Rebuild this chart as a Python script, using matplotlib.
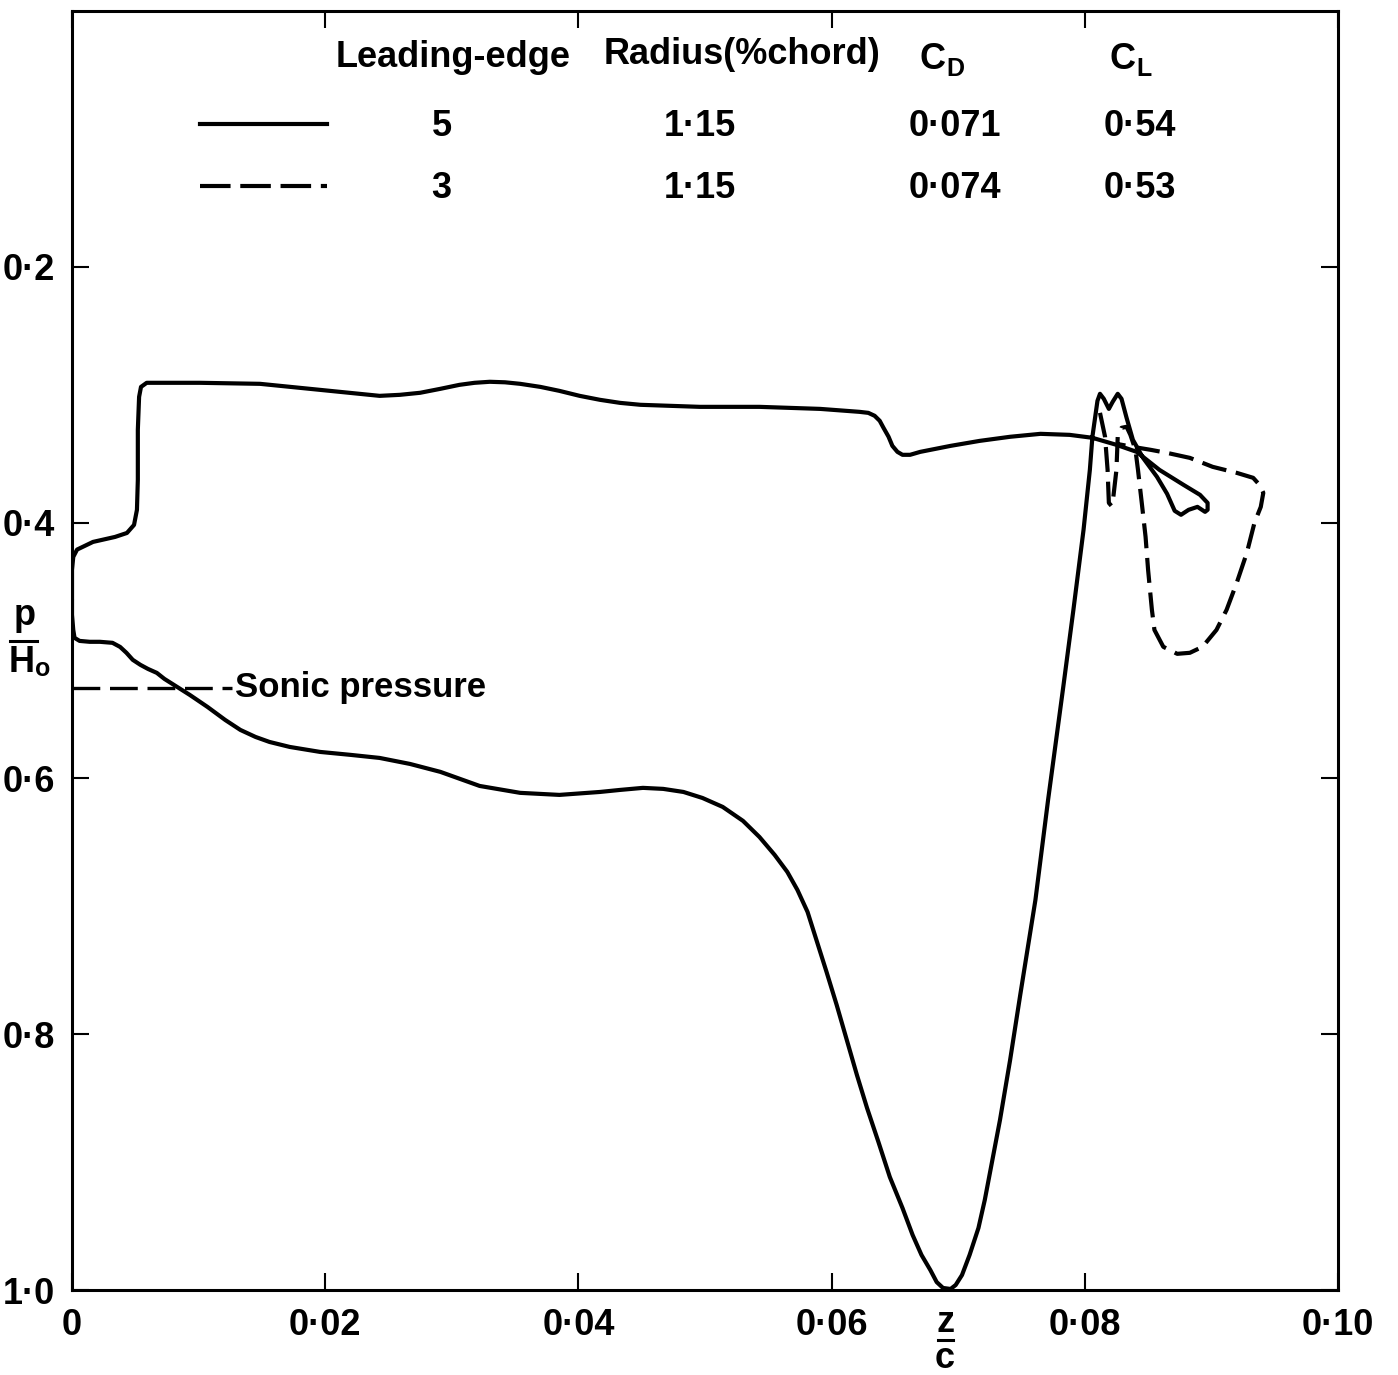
import matplotlib
matplotlib.use('Agg')
import matplotlib.pyplot as plt
from matplotlib.lines import Line2D

plt.rcParams['font.family'] = ['Liberation Sans', 'DejaVu Sans']
plt.rcParams['font.weight'] = 'bold'
plt.rcParams['lines.scale_dashes'] = False

# 5% leading edge: suction side, leading edge -> trailing edge
upper_x = [0.0, 0.0, 0.0001, 0.0004, 0.00166, 0.0034, 0.00434, 0.0049, 0.00513,
           0.0052, 0.0052, 0.0053, 0.00545, 0.0059, 0.0101, 0.01485, 0.0196,
           0.0220, 0.0243, 0.0259, 0.0275, 0.0291, 0.0306, 0.0318, 0.0330,
           0.0342, 0.0354, 0.0370, 0.0385, 0.0401, 0.0417, 0.0433, 0.0449,
           0.0472, 0.0496, 0.0543, 0.0591, 0.0622, 0.0629, 0.0634, 0.0638,
           0.0641, 0.0645, 0.0648, 0.0652, 0.0656, 0.0662, 0.0670, 0.0694,
           0.0717, 0.0741, 0.0765, 0.0788, 0.0806, 0.0825, 0.0841, 0.0859,
           0.0878, 0.0891, 0.0897, 0.0897]
upper_y = [0.4604, 0.4370, 0.4268, 0.4211, 0.4151, 0.4112, 0.4081, 0.4018, 0.3900,
           0.3666, 0.3275, 0.3017, 0.2939, 0.2907, 0.2907, 0.2915, 0.2962,
           0.2985, 0.3009, 0.3001, 0.2985, 0.2954, 0.2923, 0.2907, 0.2899,
           0.2903, 0.2915, 0.2939, 0.2970, 0.3009, 0.3040, 0.3064, 0.3079,
           0.3087, 0.3095, 0.3095, 0.3111, 0.3134, 0.3142, 0.3165, 0.3204,
           0.3259, 0.3329, 0.3400, 0.3447, 0.3470, 0.3470, 0.3447, 0.3400,
           0.3361, 0.3329, 0.3306, 0.3314, 0.3337, 0.3392, 0.3447, 0.3588,
           0.3705, 0.3783, 0.3846, 0.3900]

# 5% leading edge: pressure side, trailing edge -> leading edge
lower_x = [0.0895, 0.0889, 0.0882, 0.0876, 0.0871, 0.0865, 0.0857, 0.0846, 0.0838,
           0.0833, 0.0829, 0.0826, 0.0822, 0.0819, 0.0815, 0.0812, 0.0810,
           0.0806, 0.0804, 0.0799, 0.0791, 0.0783, 0.0771, 0.0761, 0.0749,
           0.0741, 0.0733, 0.0727, 0.0721, 0.0716, 0.0709, 0.0703, 0.0698,
           0.0694, 0.0688, 0.0683, 0.0678, 0.0671, 0.0664, 0.0656, 0.0646,
           0.0637, 0.0628, 0.0620, 0.0612, 0.0604, 0.0596, 0.0588, 0.0581,
           0.0573, 0.0565, 0.0555, 0.0543, 0.0530, 0.0514, 0.0498, 0.0483,
           0.0467, 0.0451, 0.0433, 0.0417, 0.0385, 0.0354, 0.0322, 0.0291,
           0.0267, 0.0243, 0.0220, 0.0196, 0.0172, 0.0156, 0.0145, 0.0133,
           0.0121, 0.0107, 0.0093, 0.0083, 0.0073, 0.0067, 0.0060, 0.0054,
           0.0048, 0.0043, 0.0038, 0.0032, 0.0022, 0.0014, 0.0006, 0.0002,
           0.0001, 0.0, 0.0]
lower_y = [0.3916, 0.3877, 0.3900, 0.3939, 0.3908, 0.3775, 0.3642, 0.3494, 0.3353,
           0.3181, 0.3032, 0.2993, 0.3056, 0.3111, 0.3032, 0.2993, 0.3048,
           0.3329, 0.3587, 0.4057, 0.4682, 0.5284, 0.6168, 0.6950, 0.7693,
           0.8202, 0.8671, 0.8984, 0.9296, 0.9515, 0.9726, 0.9883, 0.9961,
           0.9992, 0.9984, 0.9938, 0.9844, 0.9726, 0.9570, 0.9359, 0.9117,
           0.8843, 0.8577, 0.8319, 0.8045, 0.7771, 0.7513, 0.7263, 0.7044,
           0.6872, 0.6731, 0.6598, 0.6458, 0.6332, 0.6223, 0.6153, 0.6106,
           0.6082, 0.6074, 0.6090, 0.6106, 0.6129, 0.6113, 0.6059, 0.5949,
           0.5887, 0.5840, 0.5816, 0.5793, 0.5754, 0.5715, 0.5676, 0.5621,
           0.5543, 0.5441, 0.5347, 0.5284, 0.5222, 0.5175, 0.5144, 0.5112,
           0.5073, 0.5018, 0.4972, 0.4940, 0.4932, 0.4932, 0.4925, 0.4901,
           0.4839, 0.4721, 0.4604]

# 3% leading edge, where it differs from the 5% curve
dash_x = [0.0812, 0.0816, 0.0818, 0.0819, 0.0821, 0.0822, 0.0825, 0.0826, 0.0829,
          0.0833, 0.0836, 0.0840, 0.0842, 0.0845, 0.0848, 0.0850, 0.0853,
          0.0855, 0.0862, 0.0873, 0.0883, 0.0893, 0.0904, 0.0912, 0.0920,
          0.0928, 0.0934, 0.0939, 0.0941, 0.0938, 0.0933, 0.0920, 0.0901,
          0.0883, 0.0865, 0.0852, 0.0838, 0.0825]
dash_y = [0.3142, 0.3329, 0.3587, 0.3846, 0.3869, 0.3846, 0.3587, 0.3329, 0.3259,
          0.3251, 0.3314, 0.3431, 0.3587, 0.3846, 0.4111, 0.4370, 0.4682,
          0.4839, 0.4971, 0.5026, 0.5018, 0.4971, 0.4839, 0.4682, 0.4471,
          0.4236, 0.4002, 0.3877, 0.3767, 0.3705, 0.3650, 0.3611, 0.3564,
          0.3494, 0.3455, 0.3431, 0.3408, 0.3384]

sonic_p = 0.529
sonic_x_end = 0.0126

x_ticks = [0.0, 0.02, 0.04, 0.06, 0.08, 0.10]
x_tick_labels = ['0', '0\u00b702', '0\u00b704', '0\u00b706', '0\u00b708', '0\u00b710']
y_ticks = [0.2, 0.4, 0.6, 0.8, 1.0]
y_tick_labels = ['0\u00b72', '0\u00b74', '0\u00b76', '0\u00b78', '1\u00b70']

le_pct = ['5', '3']
radius = ['1\u00b715', '1\u00b715']
cd = ['0\u00b7071', '0\u00b7074']
cl = ['0\u00b754', '0\u00b753']

W, H = 1398, 1375
fs = 26
fig = plt.figure(figsize=(W / 100, H / 100), dpi=100)
ax = fig.add_axes([72 / W, 1 - 1290 / H, 1266 / W, 1279 / H])

lw = 3.0
ax.plot(upper_x + lower_x, upper_y + lower_y, color='black', lw=lw,
        solid_joinstyle='round', solid_capstyle='round')
ax.plot(dash_x, dash_y, color='black', lw=lw, dashes=(18, 7))
ax.plot([0, sonic_x_end], [sonic_p, sonic_p], color='black', lw=2.4, dashes=(20, 7))
ax.text(sonic_x_end + 0.0003, sonic_p, 'Sonic pressure', fontsize=25,
        va='center', ha='left')

ax.set_xlim(0, 0.10)
ax.set_ylim(1.0, 0.0)
ax.set_xticks(x_ticks)
ax.set_xticklabels(x_tick_labels)
ax.set_yticks(y_ticks)
ax.set_yticklabels(y_tick_labels)
ax.tick_params(direction='in', length=12, width=1.5, labelsize=fs,
               top=True, right=True)
ax.tick_params(axis='y', pad=12)
ax.tick_params(axis='x', pad=13)
for s in ax.spines.values():
    s.set_linewidth(2.2)

# legend table
tr = ax.transAxes
ax.text(0.301, 0.964, 'Leading-edge', transform=tr, fontsize=fs, ha='center', va='center')
ax.text(0.529, 0.966, 'Radius(%chord)', transform=tr, fontsize=fs, ha='center', va='center')
ax.text(0.680, 0.962, 'C', transform=tr, fontsize=fs, ha='center', va='center')
ax.text(0.6975, 0.9547, 'D', transform=tr, fontsize=18, ha='center', va='center')
ax.text(0.830, 0.962, 'C', transform=tr, fontsize=fs, ha='center', va='center')
ax.text(0.8465, 0.9547, 'L', transform=tr, fontsize=18, ha='center', va='center')
rows_y = [0.910, 0.861]
styles = [dict(), dict(dashes=(22, 7))]
for i, yy in enumerate(rows_y):
    ax.add_line(Line2D([0.101, 0.2014], [yy + 0.002, yy + 0.002], transform=tr,
                       color='black', lw=lw, **styles[i]))
    ax.text(0.292, yy, le_pct[i], transform=tr, fontsize=fs, ha='center', va='center')
    ax.text(0.496, yy, radius[i], transform=tr, fontsize=fs, ha='center', va='center')
    ax.text(0.6975, yy, cd[i], transform=tr, fontsize=fs, ha='center', va='center')
    ax.text(0.8436, yy, cl[i], transform=tr, fontsize=fs, ha='center', va='center')

# axis labels as stacked fractions
fig.text(25 / W, 1 - 616 / H, 'p', fontsize=fs, ha='center', va='center')
fig.add_artist(Line2D([10 / W, 37 / W], [1 - 641 / H, 1 - 641 / H], color='black', lw=2.2))
fig.text(22 / W, 1 - 663 / H, 'H', fontsize=fs, ha='center', va='center')
fig.text(43 / W, 1 - 669 / H, 'o', fontsize=18, ha='center', va='center')

fig.text(945 / W, 1 - 1322 / H, 'z', fontsize=fs, ha='center', va='center')
fig.add_artist(Line2D([938 / W, 953 / W], [1 - 1340 / H, 1 - 1340 / H], color='black', lw=2.2))
fig.text(945 / W, 1 - 1358 / H, 'c', fontsize=fs, ha='center', va='center')

fig.savefig('out.png', dpi=100)
